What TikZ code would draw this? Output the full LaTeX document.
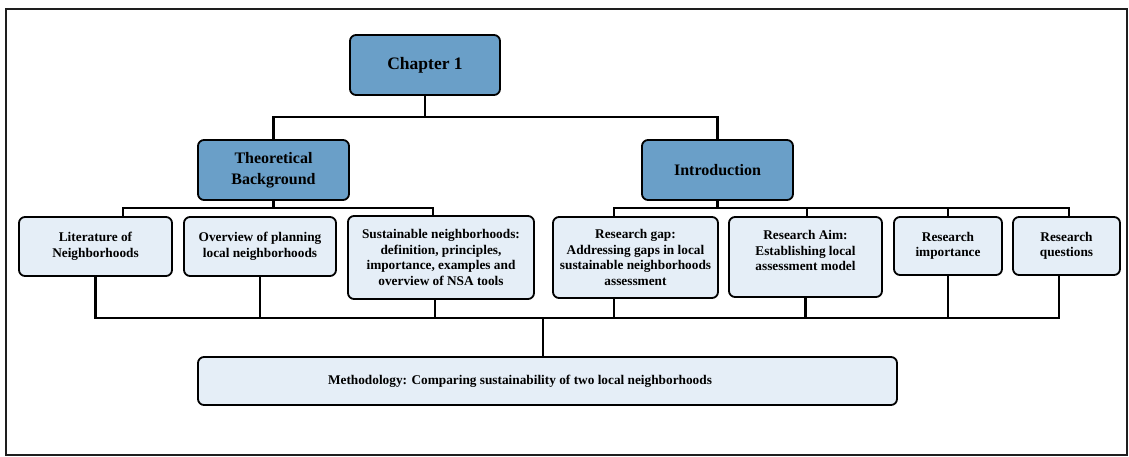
\documentclass[tikz,border=0pt]{standalone}
\usepackage{fontspec}
\setmainfont{Liberation Serif}
\definecolor{darkbox}{RGB}{106,159,200}
\definecolor{lightbox}{RGB}{229,238,247}
\definecolor{framec}{RGB}{30,30,30}
\begin{document}
\begin{tikzpicture}[x=1pt,y=-1pt,
  box/.style={draw=black, line width=1.8pt, rounded corners=6pt, align=center, inner sep=0pt,
    fill=lightbox, font=\bfseries\fontsize{13.3}{15.5}\selectfont},
  darkb/.style={box, fill=darkbox, font=\bfseries\fontsize{16}{21}\selectfont},
  conn/.style={line width=2.2pt, line join=miter}]
\useasboundingbox (0,0) rectangle (1129,457);
\draw[framec, line width=1.6pt] (6,9) rectangle (1127,455);

% level coordinates
\coordinate (yA) at (0,117);
\coordinate (yB) at (0,208);
\coordinate (yC) at (0,318);

% nodes
\node[darkb, minimum width=150pt, minimum height=60pt, font=\bfseries\fontsize{17.5}{21}\selectfont] (chap) at (425,65) {Chapter 1};
\node[darkb, minimum width=151pt, minimum height=60pt] (theo) at (273.5,170) {Theoretical\\Background};
\node[darkb, minimum width=151pt, minimum height=60pt] (intro) at (717.5,170) {Introduction};

\node[box, minimum width=153pt, minimum height=59pt] (lit) at (95.5,246.5) {Literature of\\Neighborhoods};
\node[box, minimum width=152pt, minimum height=59pt] (over) at (260,246.5) {Overview of planning\\local neighborhoods};
\node[box, minimum width=186pt, minimum height=83pt] (sust) at (441,257.5) {Sustainable neighborhoods:\\definition, principles,\\importance, examples and\\overview of NSA tools};
\node[box, minimum width=165pt, minimum height=81pt] (gap) at (635.5,257.5) {Research gap:\\Addressing gaps in local\\sustainable neighborhoods\\assessment};
\node[box, minimum width=153pt, minimum height=80pt, text depth=13pt] (aim) at (805.5,257) {Research Aim:\\Establishing local\\assessment model};
\node[box, minimum width=108pt, minimum height=58pt] (imp) at (948,246) {Research\\importance};
\node[box, minimum width=107pt, minimum height=58pt] (que) at (1066.5,246) {Research\\questions};

\node[box, minimum width=699pt, minimum height=48pt] (meth) at (547.5,381) {};
\node[font=\bfseries\fontsize{13.3}{15.5}\selectfont, inner sep=0pt] (methtxt) at (520,381) {Methodology: Comparing sustainability of two local neighborhoods};

% connectors top level
\draw[conn] (theo.north) |- (chap.south |- yA) -- (chap.south);
\draw[conn] (intro.north) |- (chap.south |- yA);

% theoretical bus
\coordinate (litT) at ([xshift=27.5pt]lit.north);
\coordinate (sustT) at ([xshift=-8pt]sust.north);
\draw[conn] (litT) |- (sustT |- yB) -- (sustT);
\draw[conn] (theo.south) -- (theo.south |- yB);

% introduction bus
\coordinate (gapT) at ([xshift=-21.5pt]gap.north);
\coordinate (queT) at ([xshift=2.5pt]que.north);
\draw[conn] (gapT) |- (queT |- yB) -- (queT);
\draw[conn] (intro.south) -- (intro.south |- yB);
\draw[conn] ([xshift=1.5pt]aim.north) -- ([xshift=1.5pt]aim.north |- yB);
\draw[conn] (imp.north) -- (imp.north |- yB);

% bottom bus
\coordinate (sustB) at ([xshift=-6pt]sust.south);
\coordinate (gapB) at ([xshift=-21.5pt]gap.south);
\coordinate (queB) at ([xshift=-7.5pt]que.south);
\coordinate (methT) at ([xshift=-4.5pt]meth.north);
\draw[conn] (lit.south) |- (queB |- yC) -- (queB);
\draw[conn] (over.south) -- (over.south |- yC);
\draw[conn] (sustB) -- (sustB |- yC);
\draw[conn] (gapB) -- (gapB |- yC);
\draw[conn] (aim.south) -- (aim.south |- yC);
\draw[conn] (imp.south) -- (imp.south |- yC);
\draw[conn] (methT |- yC) -- (methT);
\end{tikzpicture}
\end{document}
